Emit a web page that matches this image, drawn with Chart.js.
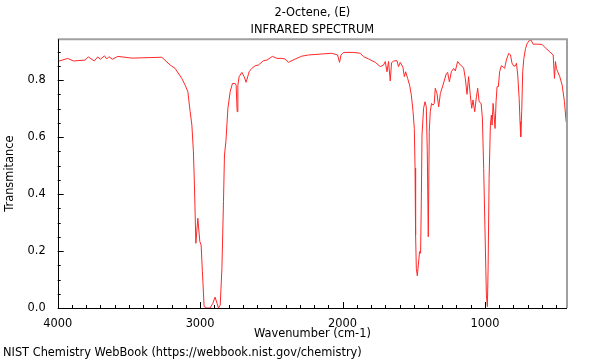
<!DOCTYPE html>
<html>
<head>
<meta charset="utf-8">
<script src="https://cdn.jsdelivr.net/npm/chart.js@4.4.1/dist/chart.umd.min.js"></script>
<style>
  html, body { margin: 0; padding: 0; background: #fff; }
  #wrap { position: relative; width: 600px; height: 360px; }
  #footer {
    position: absolute; left: 3px; top: 344px;
    font: 11.4px "DejaVu Sans", sans-serif; line-height: 16px; color: #000;
  }
</style>
</head>
<body>
<div id="wrap">
  <canvas id="irChart" width="600" height="360"></canvas>
  <div id="footer">NIST Chemistry WebBook (https://webbook.nist.gov/chemistry)</div>
</div>
<script>
// Spectrum (wavenumber in cm-1, transmittance)
const wavenumber = [
  4000, 3930, 3890, 3808, 3785, 3743, 3719, 3700, 3672, 3656, 3640, 3616, 3578, 3480,
  3269, 3211, 3176, 3129, 3105, 3086, 3070, 3058, 3047, 3040, 3030, 3016, 3002, 2993,
  2984, 2972, 2953, 2930, 2911, 2895, 2881, 2871, 2859, 2847, 2836, 2829, 2819, 2805,
  2789, 2773, 2754, 2747, 2740, 2735, 2726, 2707, 2691, 2677, 2656, 2637, 2614, 2590,
  2555, 2531, 2492, 2461, 2426, 2403, 2380, 2332, 2285, 2239, 2157, 2075, 2035, 2021,
  2011, 1993, 1923, 1876, 1852, 1817, 1770, 1735, 1712, 1700, 1688, 1677, 1665, 1656,
  1642, 1618, 1607, 1595, 1576, 1566, 1557, 1543, 1529, 1517, 1505, 1496, 1491, 1487,
  1482, 1475, 1468, 1459, 1452, 1447, 1442, 1431, 1421, 1412, 1405, 1398, 1391, 1384,
  1375, 1365, 1356, 1349, 1337, 1325, 1313, 1295, 1271, 1262, 1250, 1236, 1220, 1208,
  1192, 1173, 1150, 1138, 1126, 1115, 1103, 1093, 1084, 1072, 1060, 1051, 1041, 1027,
  1018, 1009, 999, 990, 983, 978, 971, 962, 955, 950, 943, 936, 929, 922,
  915, 906, 897, 885, 873, 862, 850, 833, 821, 810, 798, 786, 779, 770,
  760, 754, 749, 742, 735, 727, 715, 703, 687, 676, 662, 634, 599, 576,
  545, 521, 512, 505, 498, 489, 475, 458, 442, 430, 424
];
const transmittance = [
  0.865, 0.876, 0.867, 0.870, 0.881, 0.867, 0.881, 0.873, 0.885, 0.874, 0.882, 0.873, 0.883, 0.877,
  0.880, 0.853, 0.841, 0.806, 0.782, 0.759, 0.689, 0.642, 0.548, 0.432, 0.227, 0.315, 0.233, 0.221,
  0.127, 0.005, 0.0, 0.0, 0.016, 0.038, 0.016, 0.0, 0.010, 0.139, 0.373, 0.537, 0.584, 0.701,
  0.759, 0.788, 0.788, 0.782, 0.689, 0.782, 0.812, 0.827, 0.812, 0.792, 0.829, 0.841, 0.850, 0.853,
  0.868, 0.870, 0.883, 0.876, 0.876, 0.874, 0.862, 0.874, 0.884, 0.888, 0.891, 0.894, 0.888, 0.862,
  0.888, 0.897, 0.897, 0.894, 0.882, 0.874, 0.862, 0.847, 0.853, 0.865, 0.829, 0.865, 0.797, 0.860,
  0.867, 0.868, 0.847, 0.862, 0.845, 0.812, 0.829, 0.806, 0.782, 0.747, 0.690, 0.630, 0.491, 0.256,
  0.139, 0.113, 0.151, 0.198, 0.192, 0.373, 0.607, 0.701, 0.724, 0.706, 0.548, 0.250, 0.619, 0.689,
  0.718, 0.712, 0.718, 0.771, 0.753, 0.706, 0.753, 0.782, 0.823, 0.827, 0.794, 0.829, 0.841, 0.832,
  0.865, 0.853, 0.843, 0.806, 0.750, 0.812, 0.747, 0.701, 0.730, 0.689, 0.741, 0.771, 0.724, 0.718,
  0.666, 0.490, 0.256, 0.046, 0.005, 0.139, 0.455, 0.642, 0.677, 0.642, 0.718, 0.677, 0.630, 0.724,
  0.777, 0.777, 0.829, 0.850, 0.847, 0.841, 0.870, 0.894, 0.888, 0.859, 0.849, 0.850, 0.859, 0.818,
  0.736, 0.654, 0.601, 0.689, 0.829, 0.876, 0.911, 0.929, 0.940, 0.940, 0.926, 0.926, 0.925, 0.913,
  0.899, 0.888, 0.806, 0.865, 0.841, 0.829, 0.812, 0.782, 0.724, 0.654, 0.665
];

const titleLines = ['2-Octene, (E)', 'INFRARED SPECTRUM'];
const xLabelEvery = 1000;
const yLabelEvery = 0.2;

const FONT = '"DejaVu Sans", sans-serif';
const FONT_SIZE = 11.4;

const points = wavenumber.map((w, i) => ({ x: w, y: transmittance[i] }));

function isMultiple(v, step) {
    const r = v / step;
    return Math.abs(r - Math.round(r)) < 1e-6;
}

// Frame, inward tick marks and the two title lines centred on the plot
const framePlugin = {
    id: 'frame',
    afterDraw(chart) {
        const { ctx, chartArea: a, scales } = chart;
        ctx.save();
        ctx.strokeStyle = '#000';
        ctx.lineWidth = 1;
        scales.x.ticks.forEach(t => {
            const px = Math.round(scales.x.getPixelForValue(t.value)) + 0.5;
            const len = isMultiple(t.value, xLabelEvery) ? 6 : 3;
            ctx.beginPath();
            ctx.moveTo(px, a.bottom);
            ctx.lineTo(px, a.bottom - len);
            ctx.stroke();
        });
        scales.y.ticks.forEach(t => {
            const py = Math.round(scales.y.getPixelForValue(t.value)) + 0.5;
            const len = isMultiple(t.value, yLabelEvery) ? 6 : 3;
            ctx.beginPath();
            ctx.moveTo(a.left, py);
            ctx.lineTo(a.left + len, py);
            ctx.stroke();
        });
        // top and right in grey
        ctx.strokeStyle = '#a0a0a0';
        ctx.lineWidth = 2;
        ctx.beginPath();
        ctx.moveTo(a.left, a.top);
        ctx.lineTo(a.right, a.top);
        ctx.lineTo(a.right, a.bottom);
        ctx.stroke();
        // left and bottom in black
        ctx.strokeStyle = '#000';
        ctx.lineWidth = 1;
        ctx.beginPath();
        ctx.moveTo(Math.round(a.left) + 0.5, a.top);
        ctx.lineTo(Math.round(a.left) + 0.5, Math.round(a.bottom) + 0.5);
        ctx.lineTo(a.right, Math.round(a.bottom) + 0.5);
        ctx.stroke();

        ctx.fillStyle = '#000';
        ctx.font = FONT_SIZE + 'px ' + FONT;
        ctx.textAlign = 'center';
        ctx.textBaseline = 'middle';
        const cx = (a.left + a.right) / 2;
        ctx.fillText(titleLines[0], cx, 13);
        ctx.fillText(titleLines[1], cx, 30);
        ctx.restore();
    }
};

new Chart(document.getElementById('irChart'), {
    type: 'scatter',
    data: {
        datasets: [{
            data: points,
            showLine: true,
            borderColor: 'rgb(255, 40, 40)',
            borderWidth: 1,
            pointRadius: 0,
            tension: 0
        }]
    },
    options: {
        responsive: false,
        animation: false,
        layout: { padding: { left: 0, right: 33, top: 39.3, bottom: 18 } },
        plugins: {
            legend: { display: false },
            tooltip: { enabled: false },
            title: { display: false }
        },
        scales: {
            x: {
                type: 'linear',
                reverse: true,
                min: 424,
                max: 4000,
                grid: { display: false },
                border: { display: false },
                ticks: {
                    stepSize: 100,
                    includeBounds: false,
                    autoSkip: false,
                    maxTicksLimit: 100,
                    maxRotation: 0,
                    padding: 1,
                    color: '#000',
                    font: { family: FONT, size: FONT_SIZE },
                    callback: (v) => isMultiple(v, xLabelEvery) ? String(v) : ''
                },
                title: {
                    display: true,
                    text: 'Wavenumber (cm-1)',
                    color: '#000',
                    font: { family: FONT, size: FONT_SIZE },
                    padding: { top: 0, bottom: 1 }
                },
                afterFit: (scale) => { scale.height = 34; }
            },
            y: {
                min: 0,
                max: 0.943,
                grid: { display: false },
                border: { display: false },
                ticks: {
                    stepSize: 0.05,
                    includeBounds: false,
                    autoSkip: false,
                    maxTicksLimit: 100,
                    padding: 4,
                    color: '#000',
                    font: { family: FONT, size: FONT_SIZE },
                    callback: (v) => isMultiple(v, yLabelEvery) ? v.toFixed(1) : ''
                },
                title: {
                    display: true,
                    text: 'Transmitance',
                    color: '#000',
                    font: { family: FONT, size: FONT_SIZE },
                    padding: { top: 3, bottom: 0 }
                },
                afterFit: (scale) => { scale.width = 57.7; }
            }
        }
    },
    plugins: [framePlugin]
});
</script>
</body>
</html>
